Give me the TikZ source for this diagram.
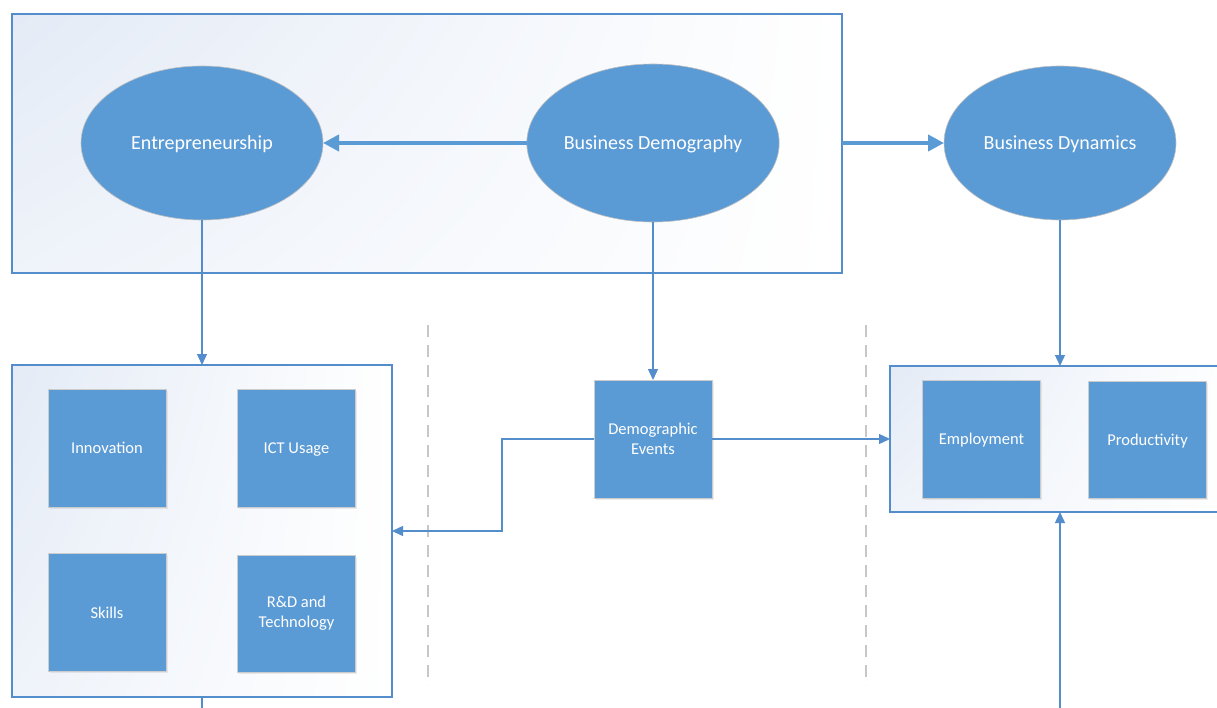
\documentclass[tikz,border=0pt]{standalone}
\usepackage{fontspec}
\setmainfont{Carlito}
\usetikzlibrary{arrows.meta,shadows,shadings,shapes.geometric,positioning}
\definecolor{cblue}{RGB}{91,155,213}
\definecolor{cline}{RGB}{84,141,204}
\definecolor{cgrad}{RGB}{228,235,246}
\tikzset{
  every node/.style={inner sep=0pt, outer sep=0pt},
  container/.style={draw=cline, line width=1.3pt, rectangle, anchor=north west},
  grad/.style={upper left=cgrad, upper right=white, lower left=cgrad!60!white, lower right=white},
  oval/.style={ellipse, fill=cblue, draw=black!25, line width=0.6pt, text=white, font=\fontsize{20}{24}\selectfont, text depth=0pt},
  sq/.style={rectangle, fill=cblue, draw=black!20, line width=0.8pt, text=white, font=\fontsize{16.5}{20}\selectfont, align=center,
     minimum width=118pt, minimum height=118pt, drop shadow={opacity=0.15, shadow xshift=1.5pt, shadow yshift=-1.5pt}},
  sqone/.style={sq, text depth=0pt},
  thin/.style={draw=cline, line width=1.4pt, -{Triangle[length=11pt,width=10pt]}},
  thick/.style={draw=cblue, line width=4pt, -{Triangle[length=16pt,width=16pt]}},
  sep/.style={draw=black!22, line width=1.5pt, dash pattern=on 12pt off 8pt},
}
\begin{document}
\begin{tikzpicture}[x=1pt,y=-1pt]
\useasboundingbox (0,0) rectangle (1217,708);
% containers with gradient
\shade[grad] (12,14) rectangle (842,273);
\node[container, minimum width=830pt, minimum height=259pt] (top) at (12,14) {};
\shade[grad] (12,365) rectangle (392,697);
\node[container, minimum width=380pt, minimum height=332pt] (left) at (12,365) {};
\shade[grad] (890,366) rectangle (1240,512);
\node[container, minimum width=350pt, minimum height=146pt] (right) at (890,366) {};
% separators
\coordinate (s1a) at (428,325); \coordinate (s1b) at (428,685);
\coordinate (s2a) at (866,325); \coordinate (s2b) at (866,685);
\draw[sep] (s1a) -- (s1b);
\draw[sep] (s2a) -- (s2b);
% ellipses
\node[oval, minimum width=242pt, minimum height=154pt] (ent) at (202,143) {Entrepreneurship};
\node[oval, minimum width=250pt, minimum height=158pt] (bdem) at (653,143) {Business Demography};
\node[oval, minimum width=232pt, minimum height=154pt] (bdyn) at (1060,143) {Business Dynamics};
% squares
\node[sqone] (inn) at (107,448) {Innovation};
\node[sqone] (ict) at (296.5,448) {ICT Usage};
\node[sqone] (sk) at (107,612.5) {Skills};
\node[sq, minimum height=117pt] (rd) at (296.5,613.5) {R\&D and\\Technology};
\node[sq] (dem) at (653,439) {Demographic\\Events};
\node[sqone] (emp) at (981.5,439) {Employment};
\node[sqone, minimum height=117pt] (prod) at (1147.5,439.5) {Productivity};
% arrows
\draw[thick] (bdem.west) -- (ent.east);
\coordinate (tr) at (842,143);
\draw[thick] (tr) -- (bdyn.west);
\draw[thin] (ent.south) -- (ent.south |- left.north);
\draw[thin] (bdem.south) -- (dem.north);
\draw[thin] (bdyn.south) -- (bdyn.south |- right.north);
\draw[thin] (dem.west) -| (502,531) -- (left.east |- 502,531);
\draw[thin] (dem.east) -- (dem.east -| right.west);
\coordinate (bot) at (1060,710);
\draw[thin] (bot) -- (bot |- right.south);
\coordinate (lbot) at (202,710);
\draw[draw=cline, line width=1.4pt] (lbot |- left.south) -- (lbot);
\end{tikzpicture}
\end{document}
